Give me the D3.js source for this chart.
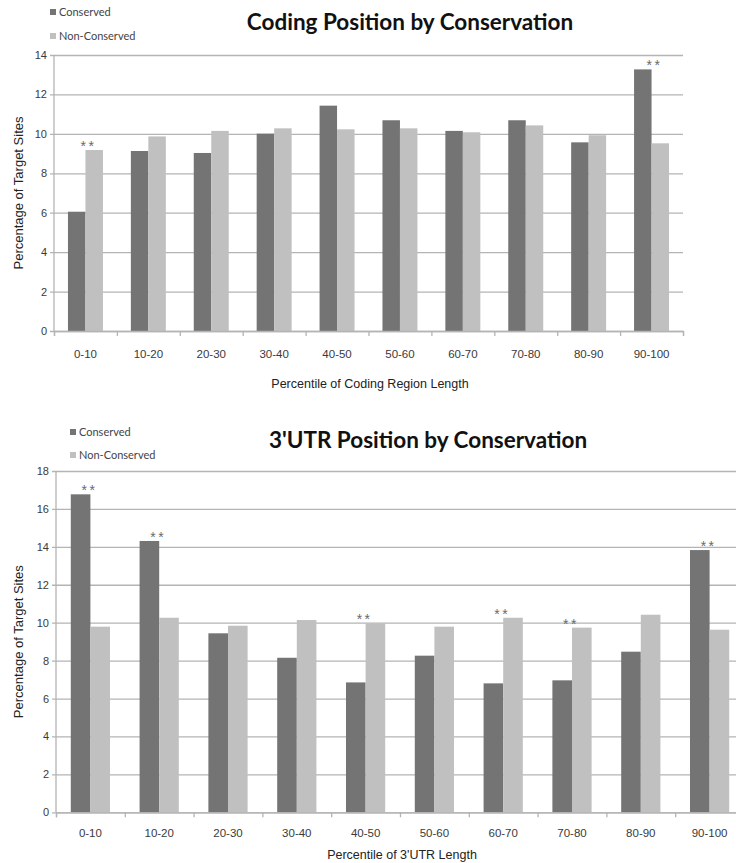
<!DOCTYPE html>
<html>
<head>
<meta charset="utf-8">
<script src="https://cdn.jsdelivr.net/npm/d3@7"></script>
<style>
  html, body { margin: 0; padding: 0; background: #fff; }
  svg { display: block; }
</style>
</head>
<body>
<svg id="chart" width="736" height="863"></svg>
<script>
// ---------------- DATA ----------------
const categories = ["0-10", "10-20", "20-30", "30-40", "40-50", "50-60", "60-70", "70-80", "80-90", "90-100"];
const seriesNames = ["Conserved", "Non-Conserved"];

const codingConserved    = [6.05, 9.13, 9.03, 10.01, 11.43, 10.69, 10.15, 10.69, 9.57, 13.27];
const codingNonConserved = [9.18, 9.87, 10.15, 10.28, 10.23, 10.28, 10.08, 10.43, 9.93, 9.52];
const codingStars = ["0-10", "90-100"];
const codingTicks = [0, 2, 4, 6, 8, 10, 12, 14];

const utrConserved    = [16.77, 14.31, 9.44, 8.15, 6.85, 8.26, 6.80, 6.96, 8.47, 13.83];
const utrNonConserved = [9.79, 10.26, 9.84, 10.14, 9.98, 9.79, 10.26, 9.74, 10.42, 9.63];
const utrStars = ["0-10", "10-20", "40-50", "60-70", "70-80", "90-100"];
const utrTicks = [0, 2, 4, 6, 8, 10, 12, 14, 16, 18];

const codingTitle = "Coding Position by Conservation";
const codingXTitle = "Percentile of Coding Region Length";
const utrTitle = "3'UTR Position by Conservation";
const utrXTitle = "Percentile of 3'UTR Length";
const yTitle = "Percentage of Target Sites";
const starLabel = "**";

// ---------------- STYLE ----------------
const colors = { "Conserved": "#747474", "Non-Conserved": "#c0c0c0" };
const gridColor = "#b4b4b4";
const textColor = "#3a3a3a";

const svg = d3.select("#chart");

function drawChart(cfg) {
  const g = svg.append("g");
  const x = d3.scaleBand().domain(categories).range([cfg.left, cfg.right])
    .paddingInner(cfg.pad).paddingOuter(cfg.pad / 2);
  const xs = d3.scaleBand().domain(seriesNames).range([0, x.bandwidth()]);
  const y = d3.scaleLinear().domain([0, d3.max(cfg.ticks)]).range([cfg.bottom, cfg.top]);

  // gridlines
  g.append("g").attr("transform", `translate(${cfg.left},0)`)
    .call(d3.axisLeft(y).tickValues(cfg.ticks).tickSize(-(cfg.right - cfg.left)).tickFormat(""))
    .call(a => a.select(".domain").remove())
    .call(a => a.selectAll("line").attr("stroke", gridColor).attr("stroke-width", 1.3).attr("x1", -4));

  // y tick labels
  g.append("g").attr("transform", `translate(${cfg.left - 7},0)`)
    .call(d3.axisLeft(y).tickValues(cfg.ticks).tickSize(0).tickPadding(0))
    .call(a => a.select(".domain").remove())
    .call(a => a.selectAll("text").attr("fill", textColor)
      .attr("font-family", "Liberation Sans, Arial, sans-serif").attr("font-size", 11));

  // y axis line
  g.append("line").attr("x1", cfg.left).attr("x2", cfg.left)
    .attr("y1", cfg.top).attr("y2", cfg.bottom)
    .attr("stroke", gridColor).attr("stroke-width", 1.3);

  // bars
  const rows = categories.map((c, i) => ({ cat: c, vals: [cfg.cons[i], cfg.non[i]] }));
  const grp = g.selectAll("g.grp").data(rows).join("g").attr("class", "grp")
    .attr("transform", d => `translate(${x(d.cat)},0)`);
  grp.selectAll("rect").data(d => d.vals.map((v, k) => ({ s: seriesNames[k], v })))
    .join("rect")
    .attr("x", d => xs(d.s)).attr("width", xs.bandwidth())
    .attr("y", d => y(d.v)).attr("height", d => y(0) - y(d.v))
    .attr("fill", d => colors[d.s]);

  // stars
  g.selectAll("text.star").data(rows.filter(r => cfg.stars.includes(r.cat)))
    .join("text").attr("class", "star")
    .attr("x", d => x(d.cat) + x.bandwidth() / 2 + cfg.starDx)
    .attr("y", d => y(d3.max(d.vals)) + 1)
    .attr("text-anchor", "middle")
    .attr("font-family", "Liberation Sans, Arial, sans-serif")
    .attr("font-size", 14).attr("letter-spacing", 2.5)
    .attr("fill", "#6a6a6a").text(starLabel);

  // x axis line with boundary ticks
  const xb = d3.scaleLinear().domain([0, categories.length]).range([cfg.left, cfg.right]);
  g.append("g").attr("transform", `translate(0,${cfg.bottom})`)
    .call(d3.axisBottom(xb).ticks(categories.length).tickSize(5).tickFormat("").tickSizeOuter(5))
    .call(a => a.select(".domain").attr("stroke", gridColor).attr("stroke-width", 1.3))
    .call(a => a.selectAll("line").attr("stroke", gridColor).attr("stroke-width", 1.3));

  // x labels
  g.append("g").attr("transform", `translate(0,${cfg.bottom})`)
    .call(d3.axisBottom(x).tickSize(0).tickPadding(cfg.xLabelPad))
    .call(a => a.select(".domain").remove())
    .call(a => a.selectAll("text").attr("fill", textColor)
      .attr("font-family", "Liberation Sans, Arial, sans-serif").attr("font-size", 11.5));

  // axis titles
  g.append("text").attr("x", cfg.xTitleX).attr("y", cfg.xTitleY)
    .attr("text-anchor", "middle").attr("fill", "#222")
    .attr("font-family", "Liberation Sans, Arial, sans-serif").attr("font-size", 12.5)
    .text(cfg.xTitle);
  g.append("text")
    .attr("transform", `translate(${cfg.yTitleX},${(cfg.top + cfg.bottom) / 2}) rotate(-90)`)
    .attr("text-anchor", "middle").attr("fill", "#222")
    .attr("font-family", "Liberation Sans, Arial, sans-serif").attr("font-size", 13)
    .text(yTitle);

  // title
  g.append("text").attr("x", cfg.titleX).attr("y", cfg.titleY)
    .attr("text-anchor", "middle").attr("fill", "#111")
    .attr("font-family", "Lato, 'Open Sans', sans-serif").attr("font-weight", "bold")
    .attr("font-size", cfg.titleSize).text(cfg.title);

  // legend
  const lg = g.append("g");
  seriesNames.forEach((s, k) => {
    const ly = cfg.legendY + k * cfg.legendGap;
    lg.append("rect").attr("x", cfg.legendX).attr("y", ly - 7).attr("width", 6).attr("height", 6)
      .attr("fill", colors[s]);
    lg.append("text").attr("x", cfg.legendX + 9).attr("y", ly)
      .attr("fill", "#444").attr("font-family", "Lato, 'Open Sans', sans-serif")
      .attr("font-size", 11).text(s);
  });
}

drawChart({
  cons: codingConserved, non: codingNonConserved, stars: codingStars, ticks: codingTicks,
  left: 54, right: 683, top: 55, bottom: 331, pad: 0.444, starDx: 3,
  xLabelPad: 19, xTitle: codingXTitle, xTitleX: 370, xTitleY: 388,
  yTitleX: 23, title: codingTitle, titleX: 410, titleY: 30, titleSize: 22.5,
  legendX: 50, legendY: 16, legendGap: 24
});

drawChart({
  cons: utrConserved, non: utrNonConserved, stars: utrStars, ticks: utrTicks,
  left: 56, right: 744, top: 471, bottom: 812.3, pad: 0.43, starDx: -1,
  xLabelPad: 17, xTitle: utrXTitle, xTitleX: 402, xTitleY: 859,
  yTitleX: 23, title: utrTitle, titleX: 428, titleY: 448, titleSize: 22.5,
  legendX: 70, legendY: 436, legendGap: 23
});
</script>
</body>
</html>
